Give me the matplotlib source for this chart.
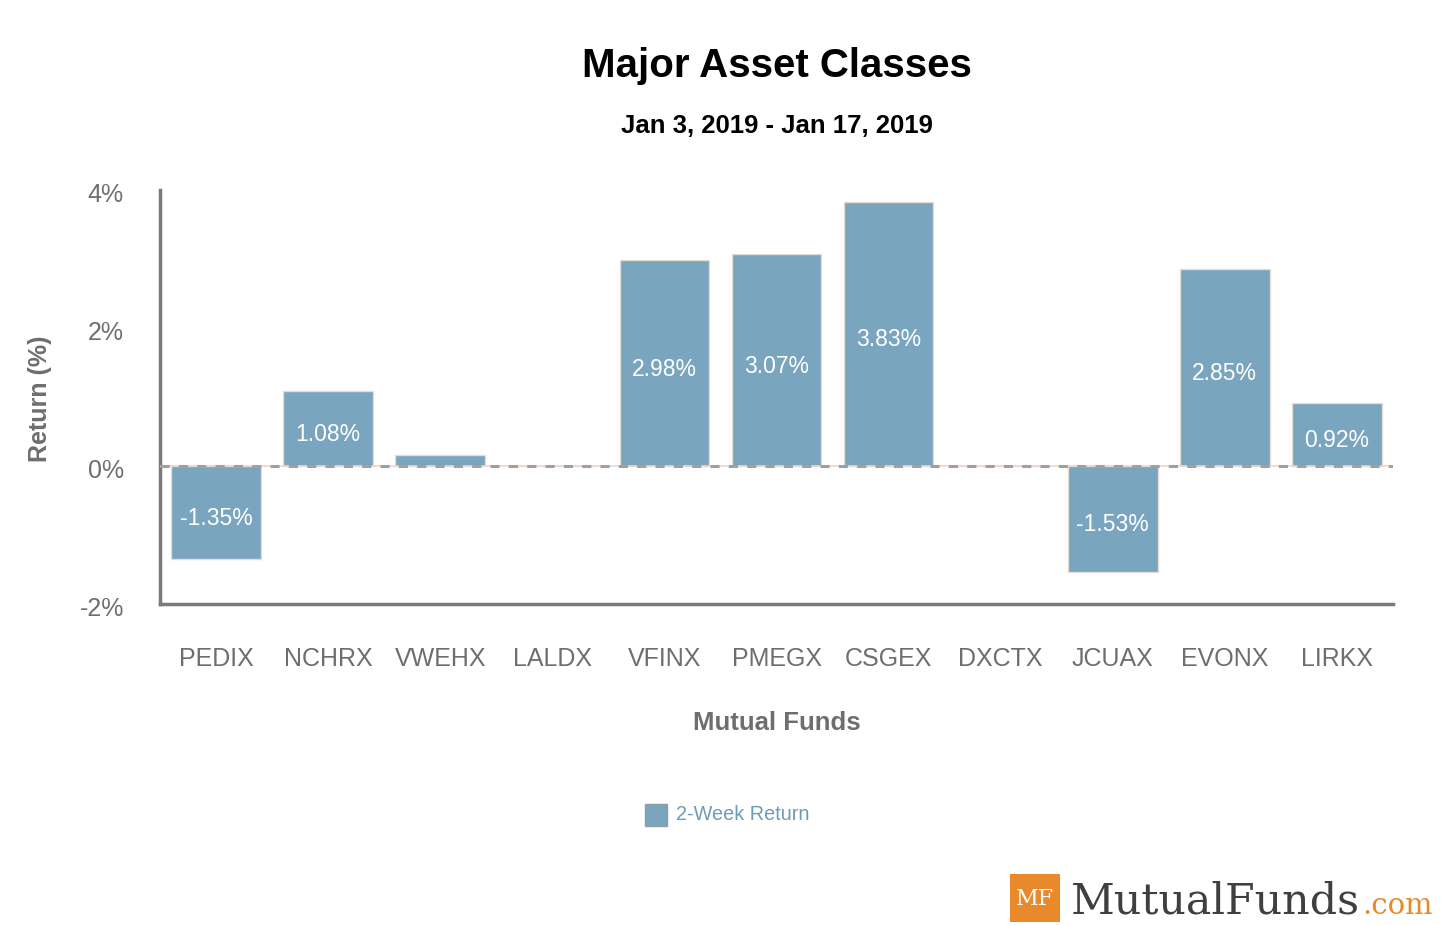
import matplotlib
matplotlib.use("Agg")
import matplotlib.pyplot as plt
from matplotlib.patches import Rectangle
from matplotlib.transforms import ScaledTranslation

funds = ["PEDIX", "NCHRX", "VWEHX", "LALDX", "VFINX", "PMEGX", "CSGEX",
         "DXCTX", "JCUAX", "EVONX", "LIRKX"]
returns = [-1.35, 1.08, 0.16, 0.0, 2.98, 3.07, 3.83, 0.0, -1.53, 2.85, 0.92]
labels = ["-1.35%", "1.08%", "", "", "2.98%", "3.07%", "3.83%", "", "-1.53%", "2.85%", "0.92%"]
yticks = [-2, 0, 2, 4]
ytick_labels = ["-2%", "0%", "2%", "4%"]

plt.rcParams['font.family'] = ['Liberation Sans', 'DejaVu Sans']

W, H = 1445, 925
fig = plt.figure(figsize=(W / 100, H / 100), dpi=100)
ax = fig.add_axes([160 / W, 1 - 604 / H, (1393 - 160) / W, (604 - 190) / H])

bar_color = "#79a5bf"
x = list(range(len(funds)))
ax.bar(x, returns, width=0.8, color=bar_color, edgecolor="#e6ddd5", linewidth=1, zorder=2)
ax.set_xlim(-0.5, len(funds) - 0.5)
ax.set_ylim(-2, 4)

ax.axhline(0, color="#f3d3c6", lw=1.2, zorder=3)
ax.axhline(0, color="#a0a0a0", lw=2.2, ls=(0, (3, 3)), zorder=4)

down6 = ScaledTranslation(0, -6 / 100, fig.dpi_scale_trans)
for xi, v, lab in zip(x, returns, labels):
    if lab:
        ax.text(xi, v / 2, lab, ha="center", va="center", color="white", fontsize=16.5,
                zorder=5, transform=ax.transData + down6)

ax.set_yticks(yticks)
ax.set_yticklabels(ytick_labels)
ax.set_xticks(x)
ax.set_xticklabels(funds)
ax.tick_params(axis="y", length=0, pad=26, labelsize=18, labelcolor="#6e6e6e")
ax.tick_params(axis="x", length=0, pad=31, labelsize=18, labelcolor="#6e6e6e")
down3 = ScaledTranslation(0, -3 / 100, fig.dpi_scale_trans)
for t in ax.get_yticklabels():
    t.set_transform(t.get_transform() + down3)

for s in ["top", "right"]:
    ax.spines[s].set_visible(False)
for s in ["left", "bottom"]:
    ax.spines[s].set_color("#7a7a7a")
    ax.spines[s].set_linewidth(2.5)

fig.text(777 / W, 1 - 66 / H, "Major Asset Classes", ha="center", va="center",
         fontsize=29, fontweight="bold", color="black")
fig.text(777 / W, 1 - 126 / H, "Jan 3, 2019 - Jan 17, 2019", ha="center", va="center",
         fontsize=18.5, fontweight="bold", color="black")
fig.text(777 / W, 1 - 723 / H, "Mutual Funds", ha="center", va="center",
         fontsize=18.5, fontweight="bold", color="#6e6e6e")
fig.text(40 / W, 1 - 399 / H, "Return (%)", ha="center", va="center", rotation=90,
         fontsize=18, fontweight="bold", color="#6e6e6e")

# legend
fig.patches.append(Rectangle((645 / W, 1 - 826 / H), 22 / W, 22 / H, transform=fig.transFigure,
                             facecolor=bar_color, edgecolor="#8e9ea8", lw=1))
fig.text(676 / W, 1 - 814 / H, "2-Week Return", ha="left", va="center",
         fontsize=14.3, color="#6f9bb6")

# logo
orange = "#e8892b"
fig.patches.append(Rectangle((1010 / W, 1 - 922 / H), 50 / W, 48 / H, transform=fig.transFigure,
                             facecolor=orange, edgecolor="none"))
fig.text(1035 / W, 1 - 899 / H, "MF", ha="center", va="center", fontsize=16,
         color="white", family="DejaVu Serif")
main = fig.text(1071 / W, 1 - 914 / H, "MutualFunds", ha="left", va="baseline", fontsize=30,
                color="#3f3f3f", family="DejaVu Serif")
renderer = fig.canvas.get_renderer()
w = main.get_window_extent(renderer).width
main.set_fontsize(30 * 289 / w)
ext = main.get_window_extent(renderer)
com = fig.text((ext.x1 + 2) / W, 1 - 914 / H, ".com", ha="left", va="baseline",
               fontsize=main.get_fontsize() * 0.68, color=orange, family="DejaVu Serif")

fig.savefig("out.png", dpi=100)
